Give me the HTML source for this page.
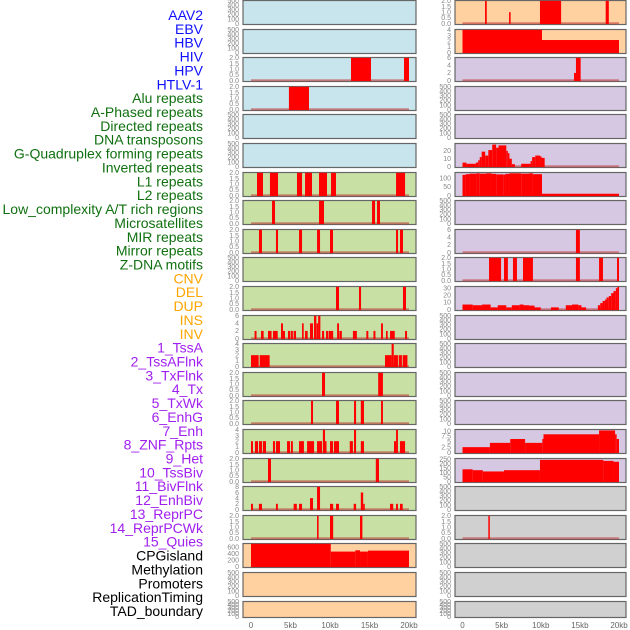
<!DOCTYPE html>
<html><head><meta charset="utf-8">
<style>
html,body{margin:0;padding:0;background:#fff;}
svg{display:block;font-family:"Liberation Sans",sans-serif;}
</style></head>
<body>
<svg id="chart" width="630" height="630" viewBox="0 0 630 630">
<g id="labels"></g>
<g id="panels"></g>
<g id="xaxes"></g>
</svg>
<script>
// ----- data (kb start, kb end, value) -----
const trackNames = ["AAV2","EBV","HBV","HIV","HPV","HTLV-1","Alu repeats","A-Phased repeats","Directed repeats","DNA transposons","G-Quadruplex forming repeats","Inverted repeats","L1 repeats","L2 repeats","Low_complexity A/T rich regions","Microsatellites","MIR repeats","Mirror repeats","Z-DNA motifs","CNV","DEL","DUP","INS","INV","1_TssA","2_TssAFlnk","3_TxFlnk","4_Tx","5_TxWk","6_EnhG","7_Enh","8_ZNF_Rpts","9_Het","10_TssBiv","11_BivFlnk","12_EnhBiv","13_ReprPC","14_ReprPCWk","15_Quies","CPGisland","Methylation","Promoters","ReplicationTiming","TAD_boundary"];
const labelColors = ["#1010ff","#1010ff","#1010ff","#1010ff","#1010ff","#1010ff","#107010","#107010","#107010","#107010","#107010","#107010","#107010","#107010","#107010","#107010","#107010","#107010","#107010","#ffa500","#ffa500","#ffa500","#ffa500","#ffa500","#a020f0","#a020f0","#a020f0","#a020f0","#a020f0","#a020f0","#a020f0","#a020f0","#a020f0","#a020f0","#a020f0","#a020f0","#a020f0","#a020f0","#a020f0","#000","#000","#000","#000","#000"];

const segsHIV = [[12.66,15.19,2],[19.37,20,2]];
const segsHPV = [[4.8,7.34,2]];
const segsAlu = [[0.76,1.52,2],[2.4,3.42,2],[5.82,6.46,2],[6.84,7.72,2],[8.61,9.62,2],[10.13,10.76,2],[18.36,19.5,2]];
const segsAPhased = [[2.66,3.04,2],[8.61,9.24,2],[15.32,15.7,2],[15.95,16.33,2]];
const segsDirected = [[1.01,1.39,2],[3.16,3.42,2],[6.08,6.46,2],[8.36,8.74,2],[10.0,10.38,2],[18.36,18.61,2],[18.86,19.24,2]];
const segsGQuad = [[10.76,11.14,2],[13.67,13.93,2],[19.24,19.62,2]];
const segsInverted = [[0.45,0.7,2],[1.27,1.6,2],[2.15,2.6,2],[2.78,3.38,2],[3.8,4.05,4],[4.05,4.3,2],[4.68,4.98,2],[5.06,5.3,2],[5.4,5.7,2],[6.46,6.67,4],[6.84,7.17,2],[7.47,7.85,4],[7.98,8.27,6],[8.3,8.5,4],[8.5,8.78,6],[8.99,9.25,2],[9.5,9.8,2],[9.87,10.4,2],[10.9,11.14,4],[11.18,11.5,2],[12.9,13.4,2],[14.6,14.85,2],[15.5,15.75,2],[16.46,16.7,4],[17.09,17.3,2],[17.6,18.2,2],[19.5,19.75,2]];
const segsL1 = [[0,0.97,2],[1.1,2.36,2],[16.96,17.8,2],[17.8,18.07,4],[18.07,18.6,2],[18.7,19.1,2],[19.2,19.8,2]];
const segsL2 = [[8.99,9.37,2],[16.1,16.7,2]];
const segsLowComplex = [[7.6,7.85,2],[10.76,11.14,2],[13.04,13.3,2],[13.9,14.3,2],[16.46,16.7,2]];
const segsMicrosat = [[0,0.25,2],[0.5,0.89,2],[1.01,1.39,2],[1.5,1.9,2],[2.78,3.04,2],[3.16,3.67,2],[4.56,4.94,2],[5.06,5.3,2],[6.08,6.7,2],[7.1,7.98,2],[8.36,8.99,2],[9.1,9.37,4],[9.37,9.5,2],[10.0,10.38,2],[10.5,11.14,2],[12.5,12.9,2],[13.04,13.3,4],[13.9,14.3,2],[18.1,18.36,2],[18.36,18.6,4],[18.86,19.5,2]];
const segsMIR = [[2.15,2.53,2],[15.8,16.2,2]];
const segsMirror = [[0,0.25,2],[1.0,1.39,2],[3.16,3.4,2],[5.4,5.8,2],[6.08,6.46,2],[7.47,7.85,4],[8.36,8.74,8],[10.0,10.4,2],[10.76,11.14,2],[13.0,13.3,2],[13.9,14.2,6],[14.2,14.4,2],[17.6,18.0,2],[18.36,18.6,2],[18.86,19.2,2]];
const segsZDNA = [[8.36,8.56,2],[10.0,10.4,2],[13.8,14.1,2]];
const segsCNV = [[0,10.1,700],[10.1,13.2,460],[13.2,13.8,500],[13.8,14.8,460],[14.8,20,490]];
const segsINS = [[2.88,3.1,2],[5.95,6.15,1],[9.9,12.6,2],[18.3,18.7,2]];
const segsINV = [[0,10.16,4],[10.16,20,2.2]];
const segsTssA = [[14.25,14.5,2],[14.5,15.1,6]];
const segsTx = [[0,0.5,5],[0.5,1.7,3.5],[1.7,2.0,5],[2.0,2.2,8],[2.2,2.45,12],[2.45,2.9,19],[2.9,3.3,14],[3.3,3.8,21],[3.8,4.3,28],[4.3,4.6,24],[4.6,5.6,27],[5.6,5.8,20],[5.8,6.0,17],[6.0,6.3,10],[6.3,6.7,3],[7.5,8.7,3.5],[8.7,8.9,7],[8.9,9.3,12],[9.3,9.9,14],[9.9,10.1,13],[10.1,10.5,11]];
const segsTxWk = [[0,0.4,118],[0.4,0.9,122],[0.9,1.8,125],[1.8,2.2,127],[2.2,3.0,125],[3.0,3.7,127],[3.7,4.3,124],[4.3,5.2,121],[5.2,5.5,120],[5.5,6.0,124],[6.0,7.5,127],[7.5,8.5,125],[8.5,9.0,127],[9.0,10.16,122],[10.16,20,10]];
const segsEnh = [[14.5,15.0,6]];
const segsZNF = [[3.39,4.93,2],[5.3,5.8,2],[6.45,6.96,2],[7.73,9.0,2],[14.5,15.0,2],[17.45,17.95,2],[19.75,20,2]];
const segsHet = [[0,1.3,7],[1.3,2.5,6],[2.5,3.6,7],[3.6,4.5,3],[4.5,5.6,6],[5.6,6.3,3],[6.3,7.3,6],[7.3,7.8,7],[7.8,8.5,6],[8.5,9.2,5.5],[9.2,10.0,3],[11.3,12.3,3],[13.2,14.0,6],[14.0,14.8,7],[14.8,15.2,6],[15.2,15.8,3],[17.3,17.6,6],[17.6,17.9,9],[17.9,18.2,12],[18.2,18.4,14],[18.4,18.7,17],[18.7,19.0,19],[19.0,19.3,23],[19.3,19.6,26],[19.6,19.8,30],[19.8,20,32]];
const segsReprPCWk = [[0,3.5,2.5],[3.5,6.1,4.5],[6.1,8.0,6.3],[8.0,10.2,4.5],[10.2,10.35,6.3],[10.35,17.45,8.5],[17.45,19.5,10.3],[19.5,19.7,8.5],[19.7,20,6.3]];
const segsQuies = [[0,1.3,137],[1.3,2.6,127],[2.6,5.3,113],[5.3,9.9,127],[9.9,18.0,243],[18.0,19.3,232],[19.3,20,222]];
const segsMethyl = [[3.3,3.48,2]];

const ticks2 = ["0.0","0.5","1.0","1.5","2.0"];
const ticksEmpty = ["0","100","200","300","400","500"];
// per-track: [segments, yMax, tick values, tick labels]
const trackSegs = [null,null,segsHIV,segsHPV,null,null,segsAlu,segsAPhased,segsDirected,null,segsGQuad,segsInverted,segsL1,segsL2,segsLowComplex,segsMicrosat,segsMIR,segsMirror,segsZDNA,segsCNV,null,null,segsINS,segsINV,segsTssA,null,null,segsTx,segsTxWk,null,segsEnh,segsZNF,segsHet,null,null,null,null,segsReprPCWk,segsQuies,null,segsMethyl,null,null,null];
const trackYMax = [500,500,2,2,500,500,2,2,2,500,2,6,4,2,2,4,2,8,2,700,500,500,2,4,6,500,500,29,130,500,6,2,32,500,500,500,500,10.6,255,500,2,500,500,500];
const trackTicks = [null,null,[0,0.5,1,1.5,2],[0,0.5,1,1.5,2],null,null,[0,0.5,1,1.5,2],[0,0.5,1,1.5,2],[0,0.5,1,1.5,2],null,[0,0.5,1,1.5,2],[0,2,4,6],[0,1,2,3,4],[0,0.5,1,1.5,2],[0,0.5,1,1.5,2],[0,1,2,3,4],[0,0.5,1,1.5,2],[0,2,4,6,8],[0,0.5,1,1.5,2],[0,200,400,600],null,null,[0,0.5,1,1.5,2],[0,1,2,3,4],[0,2,4,6],null,null,[0,10,20],[0,50,100],null,[0,2,4,6],[0,0.5,1,1.5,2],[0,10,20,30],null,null,null,null,[0,2.5,5,7.5,10],[0,50,100,150,200,250],null,[0,0.5,1,1.5,2],null,null,null];
const xTickVals = [0,5,10,15,20];
const xTickLabels = ["0","5kb","10kb","15kb","20kb"];

const bgColors = {blue:"#c8e4ec",green:"#c8e0a4",peach:"#ffd0a0",purple:"#d6c8e2",gray:"#d0d0d0"};
const NS = "http://www.w3.org/2000/svg";
function mk(tag, attrs, parent){const e=document.createElementNS(NS,tag);for(const k in attrs)e.setAttribute(k,attrs[k]);parent.appendChild(e);return e;}

// labels
const labelsG = document.getElementById('labels');
trackNames.forEach((n,i)=>{
  const t = mk('text',{x:203,y:(20+13.86*i).toFixed(1),'text-anchor':'end','font-size':'14',fill:labelColors[i]},labelsG);
  t.textContent = n;
  
  
});

const panelsG = document.getElementById('panels');
const cols = [{x0:243,x1:416,z:251,w:158,tx:239},{x0:455,x1:626,z:462.5,w:156.5,tx:451}];
function fmt(v,labels){return labels;}
for(let i=0;i<44;i++){
  const col = cols[i<22?0:1];
  const r = i%22;
  const top = Math.round(r*28.6);
  const h = r===21?17:25;
  let bg;
  if(i<6) bg=bgColors.blue; else if(i<19) bg=bgColors.green; else if(i<24) bg=bgColors.peach; else if(i<39) bg=bgColors.purple; else bg=bgColors.gray;
  const g = mk('g',{},panelsG);
  
  
  mk('rect',{x:col.x0,y:top+0.5,width:col.x1-col.x0,height:h-1,fill:bg,stroke:'#666','stroke-width':1.2},g);
  const yMax = trackYMax[i];
  const y0 = top+h-1.5, yTop = top+0.8;
  const ys = v => y0 - (v/yMax)*(y0-yTop);
  const xs = kb => col.z + kb/20*col.w;
  const segs = trackSegs[i];
  let tickVals = trackTicks[i];
  let tickLabs;
  if(!tickVals){tickVals=[0,100,200,300,400,500];tickLabs=ticksEmpty;}
  else if(tickVals[tickVals.length-1]===2 && tickVals.length===5) tickLabs=ticks2;
  else tickLabs=tickVals.map(v=>String(v));
  const ysT = r===21 ? (v => y0 - (v/yMax)*(y0-yTop)) : ys;
  tickVals.forEach((v,k)=>{
    const t=mk('text',{x:col.tx,y:(ysT(v)+2.3).toFixed(1),'text-anchor':'end','font-size':'7',fill:'#888'},g);
    t.textContent=tickLabs[k];
    
    
  });
  if(segs){
    const bl = mk('rect',{x:xs(0),y:y0-1.2,width:xs(20)-xs(0),height:2,fill:'#c03030','fill-opacity':0.55},g);
    
    
    segs.forEach(s=>{
      if(s[2]<=0) return;
      const b = mk('rect',{x:xs(s[0]).toFixed(2),y:ys(s[2]).toFixed(2),width:Math.max(1.5,xs(s[1])-xs(s[0])).toFixed(2),height:(y0-ys(s[2])+0.5).toFixed(2),fill:'#ff0000'},g);
      
      
    });
  }
}
// x axes
const xg = document.getElementById('xaxes');
cols.forEach(col=>{
  xTickVals.forEach((v,k)=>{
    const t=mk('text',{x:(col.z+v/20*col.w).toFixed(1),y:628,'text-anchor':'middle','font-size':'8',fill:'#666'},xg);
    t.textContent=xTickLabels[k];
    
    
  });
});
</script>
</body></html>
